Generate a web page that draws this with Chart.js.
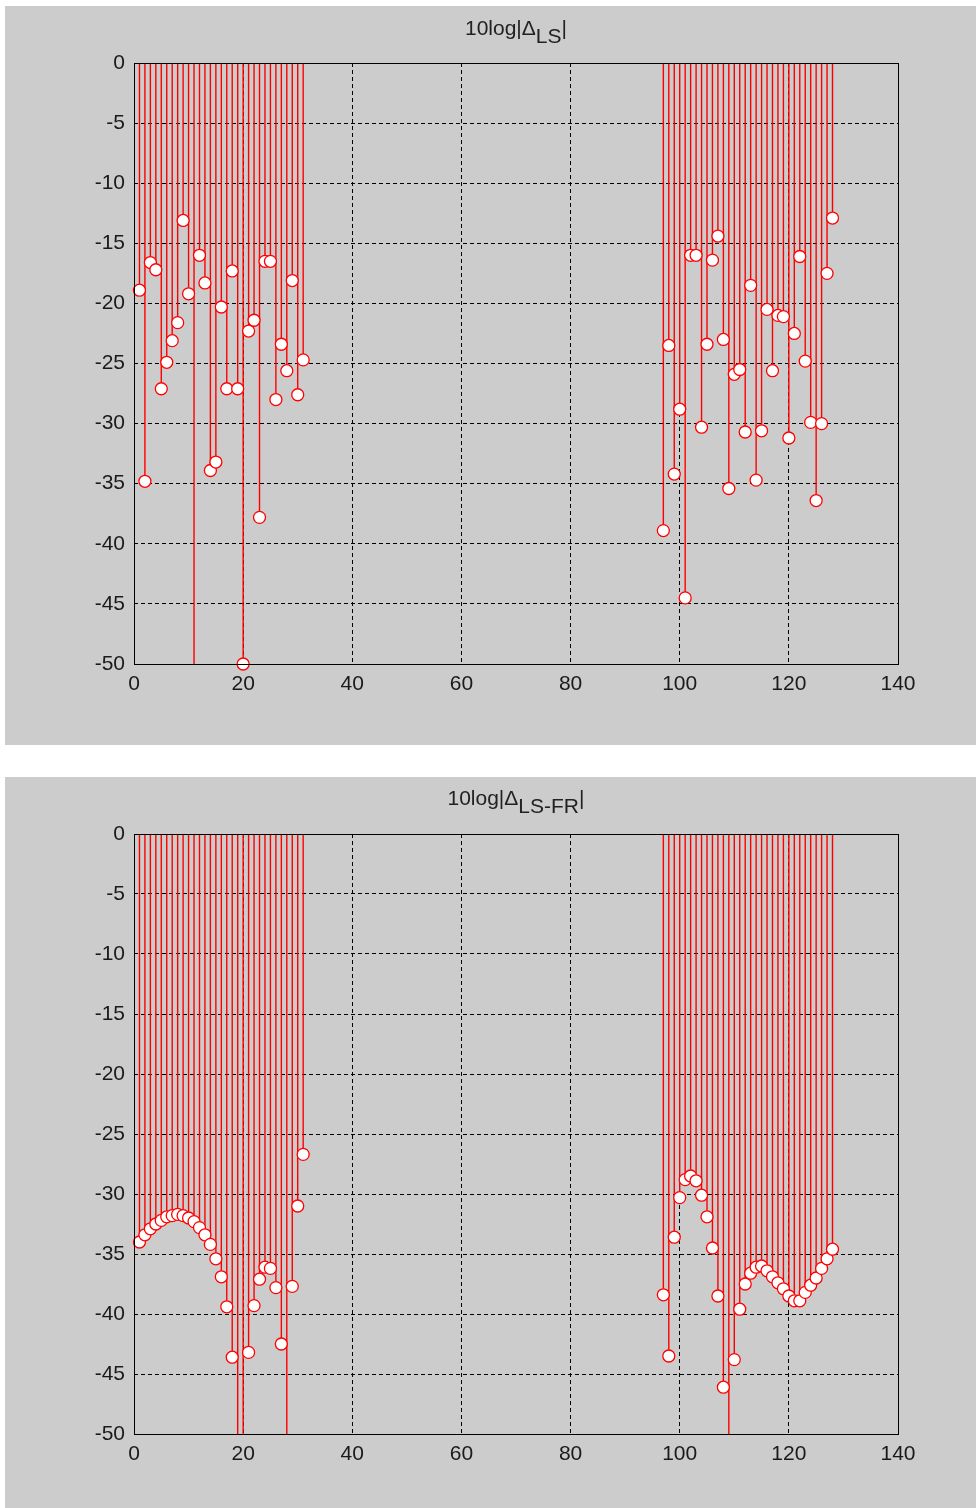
<!DOCTYPE html>
<html>
<head>
<meta charset="utf-8">
<script src="https://cdn.jsdelivr.net/npm/chart.js@4.4.1/dist/chart.umd.min.js"></script>
<style>
  body { margin: 0; background: #fff; width: 976px; height: 1508px; position: relative; overflow: hidden;
         font-family: "Liberation Sans", Arial, sans-serif; }
  .panel { position: absolute; left: 5px; width: 971px; background: #cccccc; }
  .panel canvas { position: absolute; left: 0; top: 0; }
  .title { position: absolute; left: 129px; width: 764px; text-align: center; font-size: 21px; color: #222; }
  .title sub { font-size: 1em; vertical-align: -0.4em; line-height: 0; }
</style>
</head>
<body>
<div class="panel" style="top:6px;height:739px">
  <canvas id="chartLS" width="971" height="739"></canvas>
  <div class="title" style="top:10px">10log|&Delta;<sub>LS</sub>|</div>
</div>
<div class="panel" style="top:777px;height:731px">
  <canvas id="chartLSFR" width="971" height="731"></canvas>
  <div class="title" style="top:9px">10log|&Delta;<sub>LS-FR</sub>|</div>
</div>
<script>
// subcarrier indices
const leftIdx = Array.from({ length: 31 }, (_, i) => i + 1);    // 1..31
const rightIdx = Array.from({ length: 32 }, (_, i) => i + 97);  // 97..128

// 10log|Δ_LS| (values under -50 are off the plot)
const lsLeft = [-18.9, -34.8, -16.6, -17.2, -27.1, -24.9, -23.1, -21.6, -13.1, -19.2,
                -56.0, -16.0, -18.3, -33.9, -33.2, -20.3, -27.1, -17.3, -27.1, -50.0,
                -22.3, -21.4, -37.8, -16.5, -16.5, -28.0, -23.4, -25.6, -18.1, -27.6, -24.7];
const lsRight = [-38.9, -23.5, -34.2, -28.8, -44.5, -16.0, -16.0, -30.3, -23.4, -16.4,
                 -14.4, -23.0, -35.4, -25.9, -25.5, -30.7, -18.5, -34.7, -30.6, -20.5,
                 -25.6, -21.0, -21.1, -31.2, -22.5, -16.1, -24.8, -29.9, -36.4, -30.0, -17.5, -12.9];

// 10log|Δ_LS-FR|
const lsfrLeft = [-34.0, -33.4, -32.9, -32.5, -32.2, -31.9, -31.8, -31.7, -31.8, -32.0,
                  -32.3, -32.8, -33.4, -34.2, -35.4, -36.9, -39.4, -43.6, -55.0, -58.0,
                  -43.2, -39.3, -37.1, -36.1, -36.2, -37.8, -42.5, -56.0, -37.7, -31.0, -26.7];
const lsfrRight = [-38.4, -43.5, -33.6, -30.3, -28.8, -28.5, -28.9, -30.1, -31.9, -34.5,
                   -38.5, -46.1, -57.0, -43.8, -39.6, -37.5, -36.6, -36.1, -36.0, -36.4,
                   -36.9, -37.4, -37.9, -38.5, -38.9, -38.9, -38.2, -37.6, -37.0, -36.2, -35.4, -34.6];

const xTicks = [0, 20, 40, 60, 80, 100, 120, 140];
const yTicks = [0, -5, -10, -15, -20, -25, -30, -35, -40, -45, -50];

const red = '#ff0000';
const tickFont = { family: '"Liberation Sans", Arial, sans-serif', size: 21 };

// black box round the plot area, like matlab axes
const boxPlugin = {
  id: 'box',
  afterDraw(chart) {
    const { ctx, chartArea: a } = chart;
    ctx.save();
    ctx.strokeStyle = '#000';
    ctx.lineWidth = 1;
    ctx.strokeRect(Math.round(a.left) + 0.5, Math.round(a.top) + 0.5,
                   Math.round(a.right - a.left), Math.round(a.bottom - a.top));
    ctx.restore();
  }
};

function points(idx, vals) {
  return idx.map((x, i) => ({ x: x, y: vals[i] }));
}

// stem lines: 0 -> value, broken by nulls
function stems(idx, vals) {
  const out = [];
  idx.forEach((x, i) => {
    out.push({ x: x, y: 0 }, { x: x, y: vals[i] }, { x: x, y: null });
  });
  return out;
}

function makeChart(id, left, right, bottomH) {
  const allIdx = leftIdx.concat(rightIdx);
  const allVals = left.concat(right);
  return new Chart(document.getElementById(id), {
    type: 'scatter',
    data: {
      datasets: [
        {
          data: points(allIdx, allVals),
          pointStyle: 'circle',
          pointRadius: 6,
          pointHoverRadius: 6,
          pointBorderWidth: 1.3,
          pointBorderColor: red,
          pointBackgroundColor: '#fff',
          clip: 8
        },
        {
          data: stems(allIdx, allVals),
          showLine: true,
          spanGaps: false,
          borderColor: red,
          borderWidth: 1.4,
          pointRadius: 0,
          pointHoverRadius: 0
        }
      ]
    },
    options: {
      responsive: false,
      animation: false,
      events: [],
      layout: { padding: { top: 57, right: 78, left: 0, bottom: 0 } },
      plugins: { legend: { display: false }, tooltip: { enabled: false } },
      scales: {
        x: {
          type: 'linear', min: 0, max: 140,
          afterBuildTicks: s => { s.ticks = xTicks.map(v => ({ value: v })); },
          afterFit: s => { s.height = bottomH; },
          grid: { color: '#000', lineWidth: 1, drawTicks: false },
          border: { display: false, dash: [4, 3] },
          ticks: { color: '#1a1a1a', font: tickFont, padding: 8, maxRotation: 0 }
        },
        y: {
          type: 'linear', min: -50, max: 0,
          afterBuildTicks: s => { s.ticks = yTicks.map(v => ({ value: v })); },
          afterFit: s => { s.width = 129; },
          grid: { color: '#000', lineWidth: 1, drawTicks: false },
          border: { display: false, dash: [4, 3] },
          ticks: { color: '#1a1a1a', font: tickFont, padding: 9 }
        }
      }
    },
    plugins: [boxPlugin]
  });
}

makeChart('chartLS', lsLeft, lsRight, 81);
makeChart('chartLSFR', lsfrLeft, lsfrRight, 74);
</script>
</body>
</html>
